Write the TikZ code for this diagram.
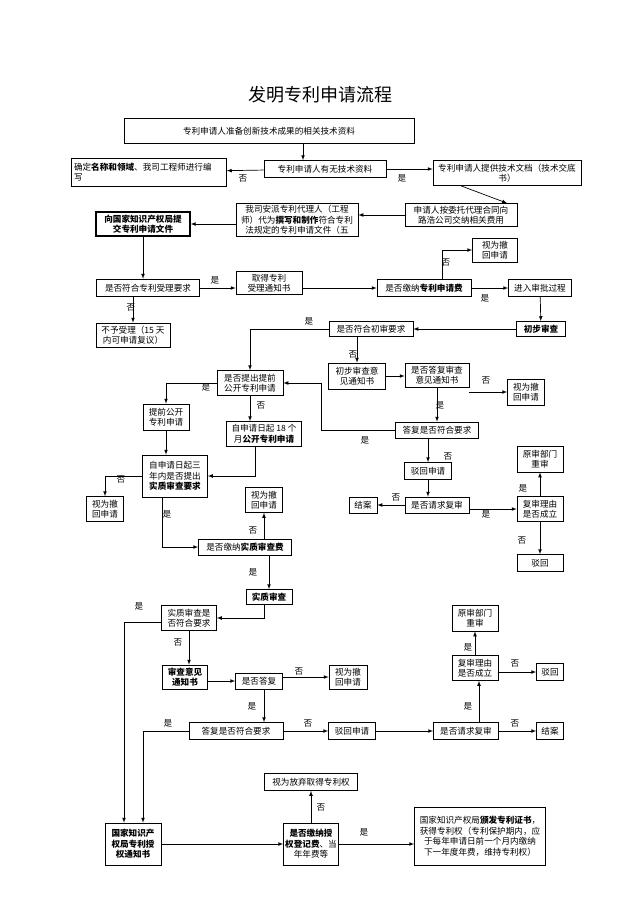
\documentclass[tikz,border=0pt]{standalone}
\usepackage{fontspec}
\setmainfont{Noto Sans CJK SC}
\begin{document}
\begin{tikzpicture}[x=1pt,y=-1pt,
  box/.style={draw,line width=0.7pt,inner sep=1pt,align=center,font=\fontsize{8.6}{10.5}\selectfont},
  thick box/.style={box,line width=1.5pt},
  arr/.style={draw,line width=0.7pt,-latex},
  lbl/.style={font=\fontsize{8.6}{10}\selectfont,inner sep=0pt}]
\useasboundingbox (0,0) rectangle (640,905);
\newcommand\bx[7][box]{\node[#1,minimum width=#5pt,minimum height=#6pt] (#2) at (#3,#4) {#7};}
\node[font=\fontsize{18}{20}\selectfont] (title) at (320,95) {发明专利申请流程};
\bx{B1}{269}{131}{290}{25}{专利申请人准备创新技术成果的相关技术资料}
\bx{B2}{325}{169}{122}{17}{专利申请人有无技术资料}
\bx[box,text width=150pt,align=left]{B3}{149}{172}{155}{28}{确定\textbf{名称和领域}、我司工程师进行编\\写}
\bx{B4}{507}{173}{148}{25}{专利申请人提供技术文档（技术交底\\书）}
\bx{B5}{461}{215}{112}{23}{申请人按委托代理合同向\\路浩公司交纳相关费用}
\bx{B6}{297}{220}{122}{33}{我司安派专利代理人（工程\\师）代为\textbf{撰写和制作}符合专利\\法规定的专利申请文件（五}
\bx[thick box]{B7}{143}{224}{94}{24}{\textbf{向国家知识产权局提}\\\textbf{交专利申请文件}}
\bx[thick box]{B8}{148}{288}{103}{17}{是否符合专利受理要求}
\bx{B9}{269}{283}{66}{23}{取得专利\\受理通知书}
\bx{B10}{424}{288}{94}{17}{是否缴纳\textbf{专利申请费}}
\bx{B11}{495}{250}{45}{24}{视为撤\\回申请}
\bx{B12}{540}{288}{63}{17}{进入审批过程}
\bx{B13}{133}{335}{74}{24}{不予受理（15 天\\内可申请复议）}
\bx{B14}{541}{329}{49}{15}{\textbf{初步审查}}
\bx{B15}{371}{329}{84}{15}{是否符合初审要求}
\bx{B16}{357}{376}{57}{26}{初步审查意\\见通知书}
\bx{B17}{437}{375}{64}{24}{是否答复审查\\意见通知书}
\bx{B18}{526}{392}{37}{26}{视为撤\\回申请}
\bx{B19}{437}{430}{83}{16}{答复是否符合要求}
\bx{B20}{428}{471}{47}{17}{驳回申请}
\bx{B21}{437}{505}{64}{16}{是否请求复审}
\bx{B22}{363}{505}{28}{16}{结案}
\bx{B23}{540}{509}{46}{25}{复审理由\\是否成立}
\bx{B24}{540}{459}{46}{26}{原审部门\\重审}
\bx{B25}{540}{563}{46}{17}{驳回}
\bx{B26}{250}{383}{66}{25}{是否提出提前\\公开专利申请}
\bx{B27}{166}{417}{46}{26}{提前公开\\专利申请}
\bx{B28}{264}{434}{75}{25}{自申请日起 18 个\\月\textbf{公开专利申请}}
\bx{B29}{175}{476}{65}{42}{自申请日起三\\年内是否提出\\\textbf{实质审查要求}}
\bx{B30}{105}{509}{37}{25}{视为撤\\回申请}
\bx{B31}{264}{500}{37}{25}{视为撤\\回申请}
\bx{B32}{245}{547}{93}{16}{是否缴纳\textbf{实质审查费}}
\bx{B33}{269}{597}{46}{15}{\textbf{实质审查}}
\bx{B34}{189}{618}{55}{25}{实质审查是\\否符合要求}
\bx{B35}{185}{677}{45}{24}{\textbf{审查意见}\\\textbf{通知书}}
\bx{B36}{259}{681}{47}{16}{是否答复}
\bx{B37}{348}{677}{38}{24}{视为撤\\回申请}
\bx{B38}{236}{731}{94}{17}{答复是否符合要求}
\bx{B39}{352}{731}{47}{17}{驳回申请}
\bx{B40}{466}{731}{65}{17}{是否请求复审}
\bx{B41}{550}{731}{27}{17}{结案}
\bx{B42}{475}{668}{46}{25}{复审理由\\是否成立}
\bx{B43}{550}{672}{27}{17}{驳回}
\bx{B44}{475}{618}{46}{26}{原审部门\\重审}
\bx{B45}{133}{844}{56}{42}{\textbf{国家知识产}\\\textbf{权局专利授}\\\textbf{权通知书}}
\bx{B46}{311}{844}{55}{42}{\textbf{是否缴纳授}\\\textbf{权登记费}、当\\年年费等}
\bx{B47}{311}{782}{93}{17}{视为放弃取得专利权}
\bx{B48}{480}{836}{131}{58}{国家知识产权局\textbf{颁发专利证书}，\\获得专利权（专利保护期内，应\\于每年申请日前一个月内缴纳\\下一年度年费，维持专利权）}
% connectors
\draw[arr] ([xshift=-22pt]B2.north |- B1.south) -- ([xshift=-22pt]B2.north);
\draw[arr] (B2) -- (B3);
\draw[arr] (B2) -- (B4.west |- B2);
\draw[arr] (B4.south -| B5.north) -- ([xshift=46pt]B5.north);
\draw[arr] (B5.west) -- (B6.east |- B5.west);
\draw[arr] (B6.west |- B7) -- (B7.east);
\draw[arr] (B7) -- (B7 |- B8.north);
\draw[arr] (B8) -- (B9.west |- B8);
\draw[arr] (B9.east |- B10) -- (B10.west);
\draw[arr] ([xshift=18pt]B10.north) |- (B11.west);
\draw[arr] (B10) -- (B12);
\draw[arr] (B12) -- (B14);
\draw[arr] (B8.south -| B13) -- (B13);
\draw[arr] (B14) -- (B15);
\draw[arr] (B15.west) -| (B26.north);
\draw[arr] (B15.south -| B16) -- (B16);
\draw[arr] (B16) -- (B17.west |- B16);
\draw[arr] (B17.east |- B18) -- (B18);
\draw[arr] (B17) -- (B19);
\draw[arr] (B19.west) -- (321,430) |- (B26.east);
\draw[arr] (B19.south -| B20) -- (B20);
\draw[arr] (B20) -- (B20 |- B21.north);
\draw[arr] (B21) -- (B22);
\draw[arr] (B21.east |- B23) -- (B23);
\draw[arr] (B23) -- (B24);
\draw[arr] (B23) -- (B25);
\draw[arr] (B26.west) -| (B27.north);
\draw[arr] (B26.south -| B26) -- (B26 |- B28.north);
\draw[arr] (B27) -- (B27 |- B29.north);
\draw[arr] ([xshift=-9pt]B28.south) |- (B29.east);
\draw[arr] (B29.west) -| (B30.north);
\draw[arr] ([xshift=-13pt]B29.south) |- (B32.west);
\draw[arr] (B32.north -| B31) -- (B31);
\draw[arr] (B32.south -| B33) -- (B33);
\draw[arr] ([xshift=-5pt]B33.south) |- (B34.east);
\draw[arr] ([yshift=-4pt]B34.west) -| ([xshift=-9pt]B45.north);
\draw[arr] (B34) -- (B34 |- B35.north);
\draw[arr] (B35.east |- B36) -- (B36);
\draw[arr] (B36.east |- B37) -- (B37);
\draw[arr] ([xshift=5pt]B36.south) -- ([xshift=5pt]B36.south |- B38.north);
\draw[arr] (B38.west) -| ([xshift=10pt]B45.north);
\draw[arr] (B38) -- (B39);
\draw[arr] (B39) -- (B40);
\draw[arr] (B40) -- (B41);
\draw[arr] ([xshift=13pt]B40.north) -- ([xshift=13pt]B40.north |- B42.south);
\draw[arr] (B42) -- (B44);
\draw[arr] (B42.east |- B43) -- (B43);
\draw[arr] (B45) -- (B46);
\draw[arr] (B46) -- (B47);
\draw[arr] (B46) -- (B48.west |- B46);
% labels
\node[lbl] (l1) at (243,178) {否};
\node[lbl] (l2) at (402,178) {是};
\node[lbl] (l3) at (215,280) {是};
\node[lbl] (l4) at (131,307) {否};
\node[lbl] (l5) at (446,262) {否};
\node[lbl] (l6) at (485,298) {是};
\node[lbl] (l7) at (309,321) {是};
\node[lbl] (l8) at (353,354) {否};
\node[lbl] (l9) at (486,380) {否};
\node[lbl] (l10) at (440,405) {是};
\node[lbl] (l11) at (365,440) {是};
\node[lbl] (l12) at (448,456) {否};
\node[lbl] (l13) at (396,497) {否};
\node[lbl] (l14) at (486,514) {是};
\node[lbl] (l15) at (523,488) {是};
\node[lbl] (l16) at (522,540) {否};
\node[lbl] (l17) at (206,387) {是};
\node[lbl] (l18) at (261,405) {否};
\node[lbl] (l19) at (121,479) {否};
\node[lbl] (l20) at (167,514) {是};
\node[lbl] (l21) at (253,530) {否};
\node[lbl] (l22) at (253,572) {是};
\node[lbl] (l23) at (139,606) {是};
\node[lbl] (l24) at (178,642) {否};
\node[lbl] (l25) at (299,671) {否};
\node[lbl] (l26) at (252,706) {是};
\node[lbl] (l27) at (168,723) {是};
\node[lbl] (l28) at (308,723) {否};
\node[lbl] (l29) at (515,723) {否};
\node[lbl] (l30) at (468,706) {是};
\node[lbl] (l31) at (468,647) {是};
\node[lbl] (l32) at (515,663) {否};
\node[lbl] (l33) at (321,807) {否};
\node[lbl] (l34) at (364,832) {是};
\end{tikzpicture}
\end{document}
